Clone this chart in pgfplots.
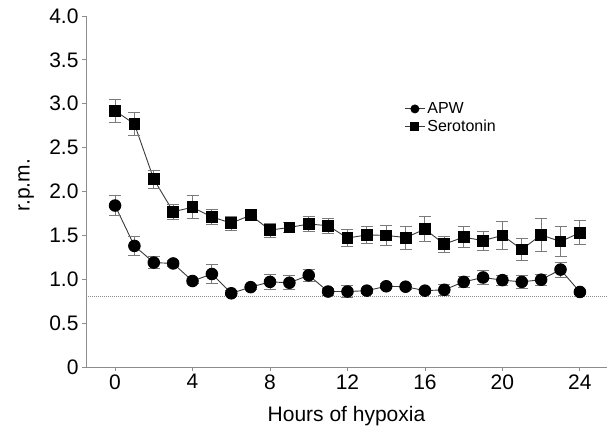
\documentclass[border=0pt]{standalone}
\usepackage{pgfplots}
\pgfplotsset{compat=1.18}
\usepackage{pgfplotstable}
\usepackage{fontspec}
\setmainfont{Liberation Sans}
\definecolor{axgray}{HTML}{8C8C8C}
\definecolor{errgray}{HTML}{7A7A7A}
\definecolor{lngray}{HTML}{3A3A3A}
\pgfplotstableread{
h y e
0 1.84 0.11
1 1.38 0.105
2 1.19 0.067
3 1.18 0.03
4 0.98 0.03
5 1.06 0.105
6 0.84 0.03
7 0.91 0.03
8 0.97 0.087
9 0.96 0.08
10 1.045 0.067
11 0.86 0.04
12 0.86 0.065
13 0.87 0.03
14 0.92 0.03
15 0.915 0.03
16 0.87 0.03
17 0.88 0.065
18 0.97 0.065
19 1.02 0.08
20 0.99 0.057
21 0.97 0.078
22 0.995 0.06
23 1.11 0.085
24 0.855 0.03
}\apw
\pgfplotstableread{
h y e
0 2.92 0.13
1 2.77 0.135
2 2.14 0.10
3 1.77 0.085
4 1.82 0.13
5 1.71 0.09
6 1.64 0.08
7 1.73 0.03
8 1.56 0.08
9 1.59 0.06
10 1.63 0.085
11 1.61 0.085
12 1.47 0.10
13 1.505 0.10
14 1.50 0.11
15 1.475 0.13
16 1.57 0.14
17 1.40 0.09
18 1.48 0.12
19 1.44 0.11
20 1.50 0.16
21 1.34 0.13
22 1.505 0.19
23 1.43 0.17
24 1.53 0.135
}\sero
\begin{document}
\begin{tikzpicture}
\path[use as bounding box] (-86pt,-61pt) rectangle (522pt,367pt);
\begin{axis}[
  at={(0pt,0pt)}, anchor=south west,
  scale only axis, width=521pt, height=351pt,
  xmin=-1.5, xmax=25.4, ymin=0, ymax=4,
  axis lines=left, axis line style={-, axgray, line width=0.8pt},
  tick style={axgray, line width=0.8pt}, tick align=outside, major tick length=4pt,
  xtick={0,4,8,12,16,20,24}, xticklabels={0,4,8,12,16,20,24},
  ytick={0,0.5,1,1.5,2,2.5,3,3.5,4},
  yticklabels={0,0.5,1.0,1.5,2.0,2.5,3.0,3.5,4.0},
  tick label style={font=\fontsize{21}{24}\selectfont},
  /pgf/number format/assume math mode=true,
  xlabel={Hours of hypoxia}, ylabel={r.p.m.},
  label style={font=\fontsize{21}{24}\selectfont},
  xlabel style={at={(axis description cs:0.5,-0.14)}, anchor=center},
  ylabel style={at={(axis description cs:-0.115,0.518)}, anchor=center, rotate=0},
  legend style={at={(axis description cs:0.607,0.765)}, anchor=north west, draw=none, fill=none,
    font=\fontsize{16}{18}\selectfont, row sep=1pt, inner sep=2pt},
  legend cell align=left,
  legend image code/.code={\draw[mark repeat=2,mark phase=2,#1,mark size=4pt] plot coordinates {(0pt,0pt)(10pt,0pt)(20pt,0pt)};},
  clip=false,
]
\addplot[densely dotted, axgray, line width=1pt, forget plot] coordinates {(-1.5,0.8) (25.4,0.8)};
\addplot[lngray, line width=0.9pt, mark=*, mark size=5.8pt, mark options={black, fill=black},
  error bars/.cd, y dir=both, y explicit,
  error bar style={errgray, line width=0.9pt},
  error mark options={rotate=90, mark size=6pt, errgray, line width=0.9pt}]
  table[x=h, y=y, y error=e] {\apw};
\addlegendentry{APW}
\addplot[lngray, line width=0.9pt, mark=square*, mark size=5.4pt, mark options={black, fill=black},
  error bars/.cd, y dir=both, y explicit,
  error bar style={errgray, line width=0.9pt},
  error mark options={rotate=90, mark size=6pt, errgray, line width=0.9pt}]
  table[x=h, y=y, y error=e] {\sero};
\addlegendentry{Serotonin}
\end{axis}
\end{tikzpicture}
\end{document}
